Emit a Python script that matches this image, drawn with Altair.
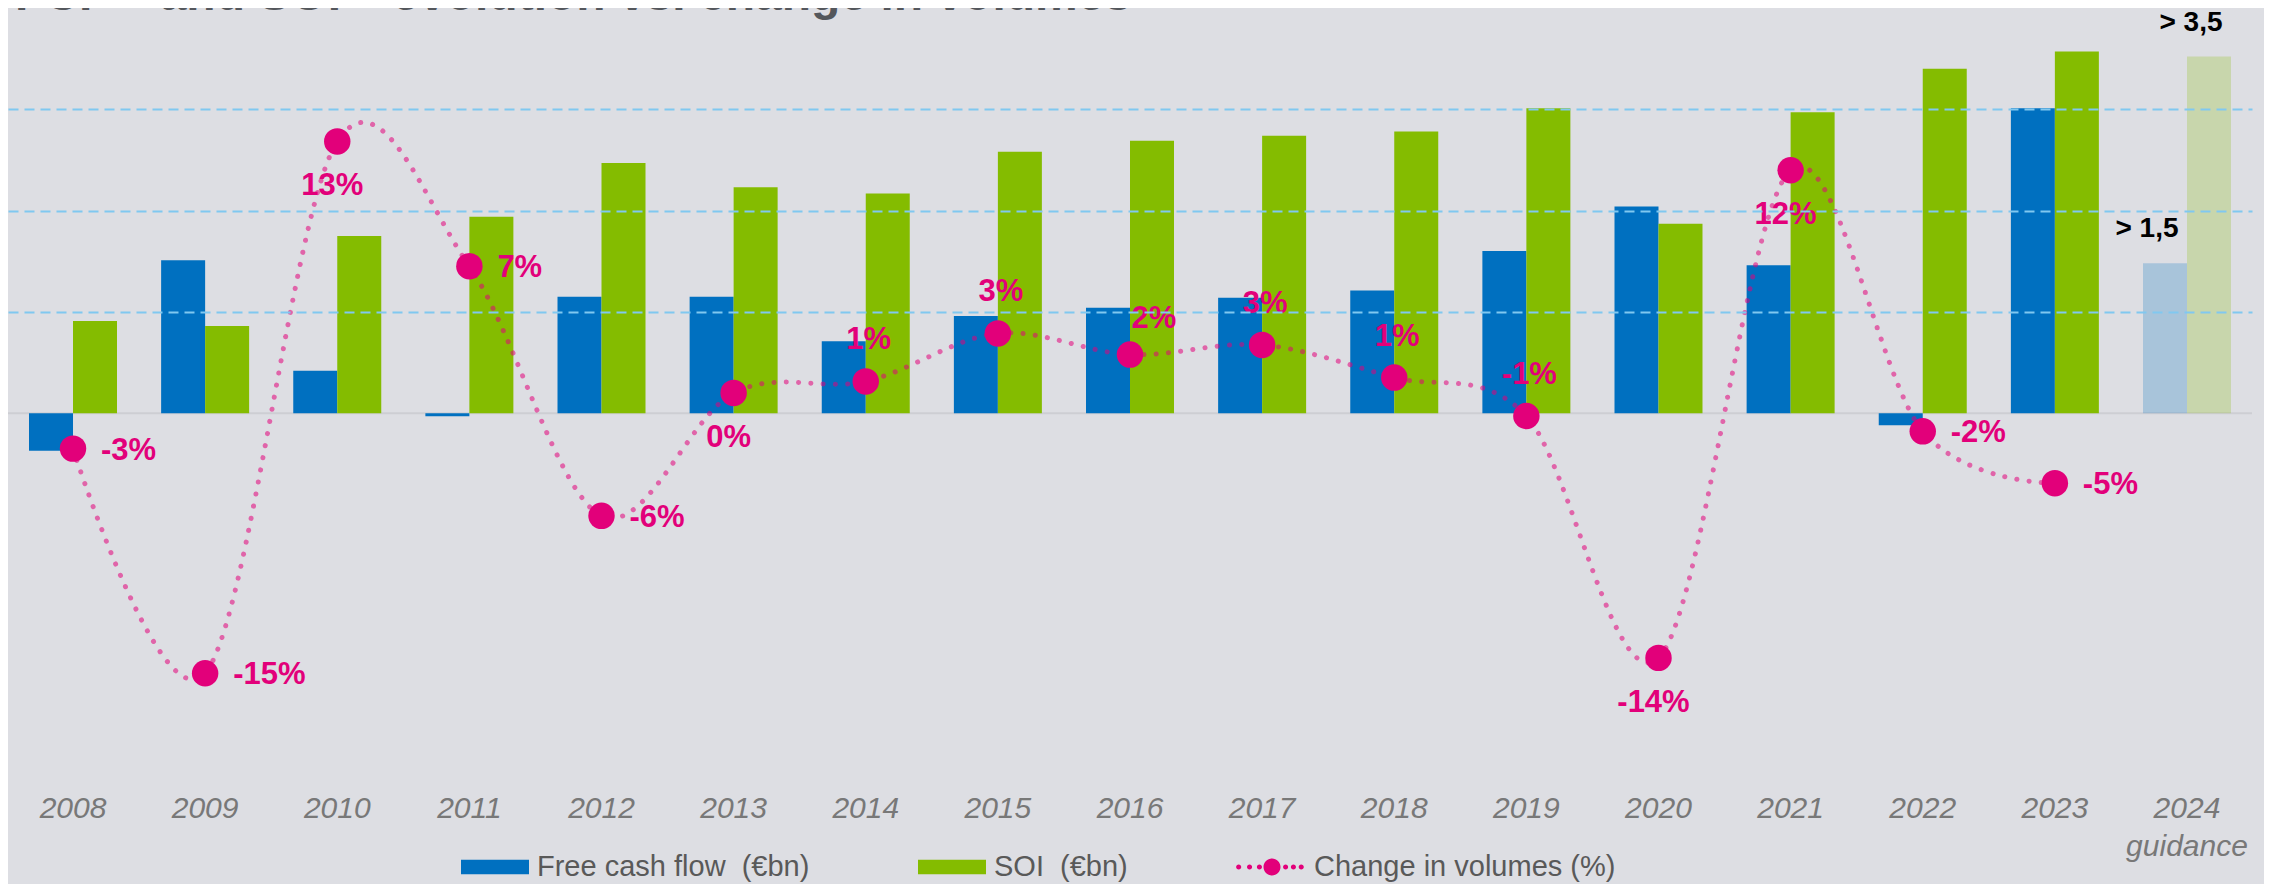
import altair as alt
import pandas as pd

# ---------------- data ----------------
years = ["2008", "2009", "2010", "2011", "2012", "2013", "2014", "2015", "2016",
         "2017", "2018", "2019", "2020", "2021", "2022", "2023", "2024"]
fcf = [-0.37, 1.51, 0.42, -0.03, 1.15, 1.15, 0.71, 0.96, 1.04,
       1.14, 1.21, 1.60, 2.04, 1.46, -0.12, 3.01, 1.48]
soi = [0.91, 0.86, 1.75, 1.94, 2.47, 2.23, 2.17, 2.58, 2.69,
       2.74, 2.78, 3.01, 1.87, 2.97, 3.40, 3.57, 3.52]
guidance_year = "2024"
guidance_text = ["> 1,5", "> 3,5"]

vol_years = ["2008", "2009", "2010", "2011", "2012", "2013", "2014", "2015",
             "2016", "2017", "2018", "2019", "2020", "2021", "2022", "2023"]
volumes = [-2.9, -14.6, 13.1, 6.6, -6.4, 0.0, 0.6, 3.1,
           2.0, 2.5, 0.8, -1.2, -13.8, 11.6, -2.0, -4.7]
vol_labels = ["-3%", "-15%", "13%", "7%", "-6%", "0%", "1%", "3%",
              "2%", "3%", "1%", "-1%", "-14%", "12%", "-2%", "-5%"]

FCF = "Free cash flow \u00a0(€bn)"
SOI = "SOI \u00a0(€bn)"
VOL = "Change in volumes (%)"
series_names = [FCF, SOI, VOL]
series_colors = ["#0070c0", "#84bc00", "#e2007a"]

title_text = ["FCF⁽¹⁾ and SOI⁽¹⁾ evolution vs. change in volumes"]

# label placement around each volume point (layout choice)
label_place = {
    "2008": "right", "2009": "right", "2010": "below", "2011": "right",
    "2012": "right", "2013": "below", "2014": "above", "2015": "above",
    "2016": "aboveright", "2017": "above", "2018": "above", "2019": "above",
    "2020": "below", "2021": "below", "2022": "right", "2023": "right",
}

# ---------------- tables ----------------
bars_df = pd.DataFrame({
    "year": years + years,
    "series": [FCF] * len(years) + [SOI] * len(years),
    "value": fcf + soi,
})
bars_df["guidance"] = bars_df["year"] == guidance_year

guid_df = pd.DataFrame({
    "year": [guidance_year, guidance_year],
    "series": [FCF, SOI],
    "value": [fcf[years.index(guidance_year)], soi[years.index(guidance_year)]],
    "text": guidance_text,
})

vol_df = pd.DataFrame({
    "year": vol_years,
    "vol": volumes,
    "label": vol_labels,
    "place": [label_place[y] for y in vol_years],
})

legend_df = pd.DataFrame({"series": series_names})
zero_df = pd.DataFrame({"zero": [0]})
title_df = pd.DataFrame({"t": title_text})

# ---------------- styles ----------------
FONT = "Liberation Sans"
MAGENTA = "#e2007a"


def circ(cx, r):
    return f"M{cx - r},0a{r},{r} 0 1,0 {2 * r},0a{r},{r} 0 1,0 {-2 * r},0"


rect_path = "M-1,-0.216H1V0.216H-1Z"
dots_path = "".join(circ(c, 0.075) for c in [-0.98, -0.66, -0.37, 0.40, 0.63, 0.86]) + circ(0, 0.25)

color_scale = alt.Scale(domain=series_names, range=series_colors)
shape_scale = alt.Scale(domain=series_names, range=[rect_path, rect_path, dots_path])
fill_scale = alt.Scale(domain=[FCF, SOI], range=series_colors[:2])

x_axis = alt.Axis(
    title=None, domain=False, ticks=False, labelAngle=0,
    labelFont=FONT, labelFontSize=30, labelFontStyle="italic", labelColor="#787878",
    labelPadding=13, labelLineHeight=38, labelFlush=False,
    labelExpr="datum.value == '2024' ? ['2024', 'guidance'] : datum.label",
)
x_enc = alt.X("year:N", sort=years,
              scale=alt.Scale(paddingInner=0.334, paddingOuter=0.159), axis=x_axis)
x_plain = alt.X("year:N", sort=years)
xoff = alt.XOffset("series:N", sort=[FCF, SOI],
                   scale=alt.Scale(domain=[FCF, SOI], paddingInner=0, paddingOuter=0))

bar_y_scale = alt.Scale(domain=[-3.621, 4.0], nice=False, zero=False)
vol_y_scale = alt.Scale(domain=[-20.16, 20.05], nice=False, zero=False)

# ---------------- bar group ----------------
zero_rule = alt.Chart(zero_df).mark_rule(color="#cdced3", strokeWidth=2).encode(
    y=alt.Y("zero:Q", scale=bar_y_scale)
)

bars = alt.Chart(bars_df).mark_bar().encode(
    x=x_enc,
    xOffset=xoff,
    y=alt.Y("value:Q", scale=bar_y_scale,
            axis=alt.Axis(values=[1, 2, 3], grid=True, gridColor="#80c8f0",
                          gridDash=[10, 6], gridWidth=2, labels=False, ticks=False,
                          domain=False, title=None, zindex=1)),
    fill=alt.Fill("series:N", scale=fill_scale, legend=None),
    opacity=alt.condition("datum.guidance", alt.value(0.24), alt.value(1)),
)

guid_text = alt.Chart(guid_df).mark_text(
    dx=-18, dy=-34, baseline="middle", align="center",
    font=FONT, fontSize=28, fontWeight="bold", color="#000000"
).encode(x=x_plain, xOffset=xoff, y=alt.Y("value:Q"), text="text:N")

# slide title, mostly above the top edge as in the reference
title_mark = alt.Chart(title_df).mark_text(
    align="left", baseline="alphabetic", font=FONT, fontSize=48,
    fontWeight="bold", color="#54575c"
).encode(x=alt.value(7), y=alt.value(2), text="t:N")

bar_group = alt.layer(zero_rule, bars, guid_text, title_mark)

# ---------------- volume group ----------------
vy = alt.Y("vol:Q", scale=vol_y_scale, axis=None)

vol_line = alt.Chart(vol_df).mark_line(
    interpolate="cardinal", tension=0, strokeDash=[0.1, 12.2], strokeCap="round",
    strokeWidth=5, color=MAGENTA, strokeOpacity=0.55
).encode(x=x_plain, y=vy)

vol_points = alt.Chart(vol_df).mark_point(
    filled=True, shape="circle", size=700, opacity=1, color=MAGENTA, strokeWidth=0
).encode(x=x_plain, y=vy)

offsets = {
    "right": dict(align="left", dx=28, dy=2),
    "below": dict(align="center", dx=-5, dy=45),
    "above": dict(align="center", dx=3, dy=-41),
    "aboveright": dict(align="center", dx=24, dy=-36),
}
label_layers = []
for place, kw in offsets.items():
    label_layers.append(
        alt.Chart(vol_df).transform_filter(alt.datum.place == place).mark_text(
            baseline="middle", font=FONT, fontSize=31, fontWeight="bold",
            color=MAGENTA, **kw
        ).encode(x=x_plain, y=vy, text="label:N")
    )

legend = alt.Legend(
    title=None, orient="none", legendX=453, legendY=825, direction="horizontal",
    symbolSize=4624, symbolStrokeWidth=0, symbolOpacity=1,
    labelFont=FONT, labelFontSize=29, labelColor="#595959", labelOffset=8,
    columnPadding=108, labelLimit=1000, padding=0,
)
legend_layer = alt.Chart(legend_df).mark_point(filled=True, opacity=1, clip=True).encode(
    color=alt.Color("series:N", scale=color_scale, legend=legend),
    shape=alt.Shape("series:N", scale=shape_scale, legend=legend),
    y=alt.datum(1000),
)

vol_group = alt.layer(vol_line, vol_points, *label_layers, legend_layer)

chart = alt.layer(bar_group, vol_group).resolve_scale(y="independent").properties(
    width=2244, height=772,
    background="#dddee3",
    padding={"left": 0, "top": 0, "right": 12, "bottom": 104},
    autosize=alt.AutoSizeParams(type="none"),
).configure_view(stroke=None)

chart.save("out.html", embed_options={"renderer": "svg", "actions": False})
